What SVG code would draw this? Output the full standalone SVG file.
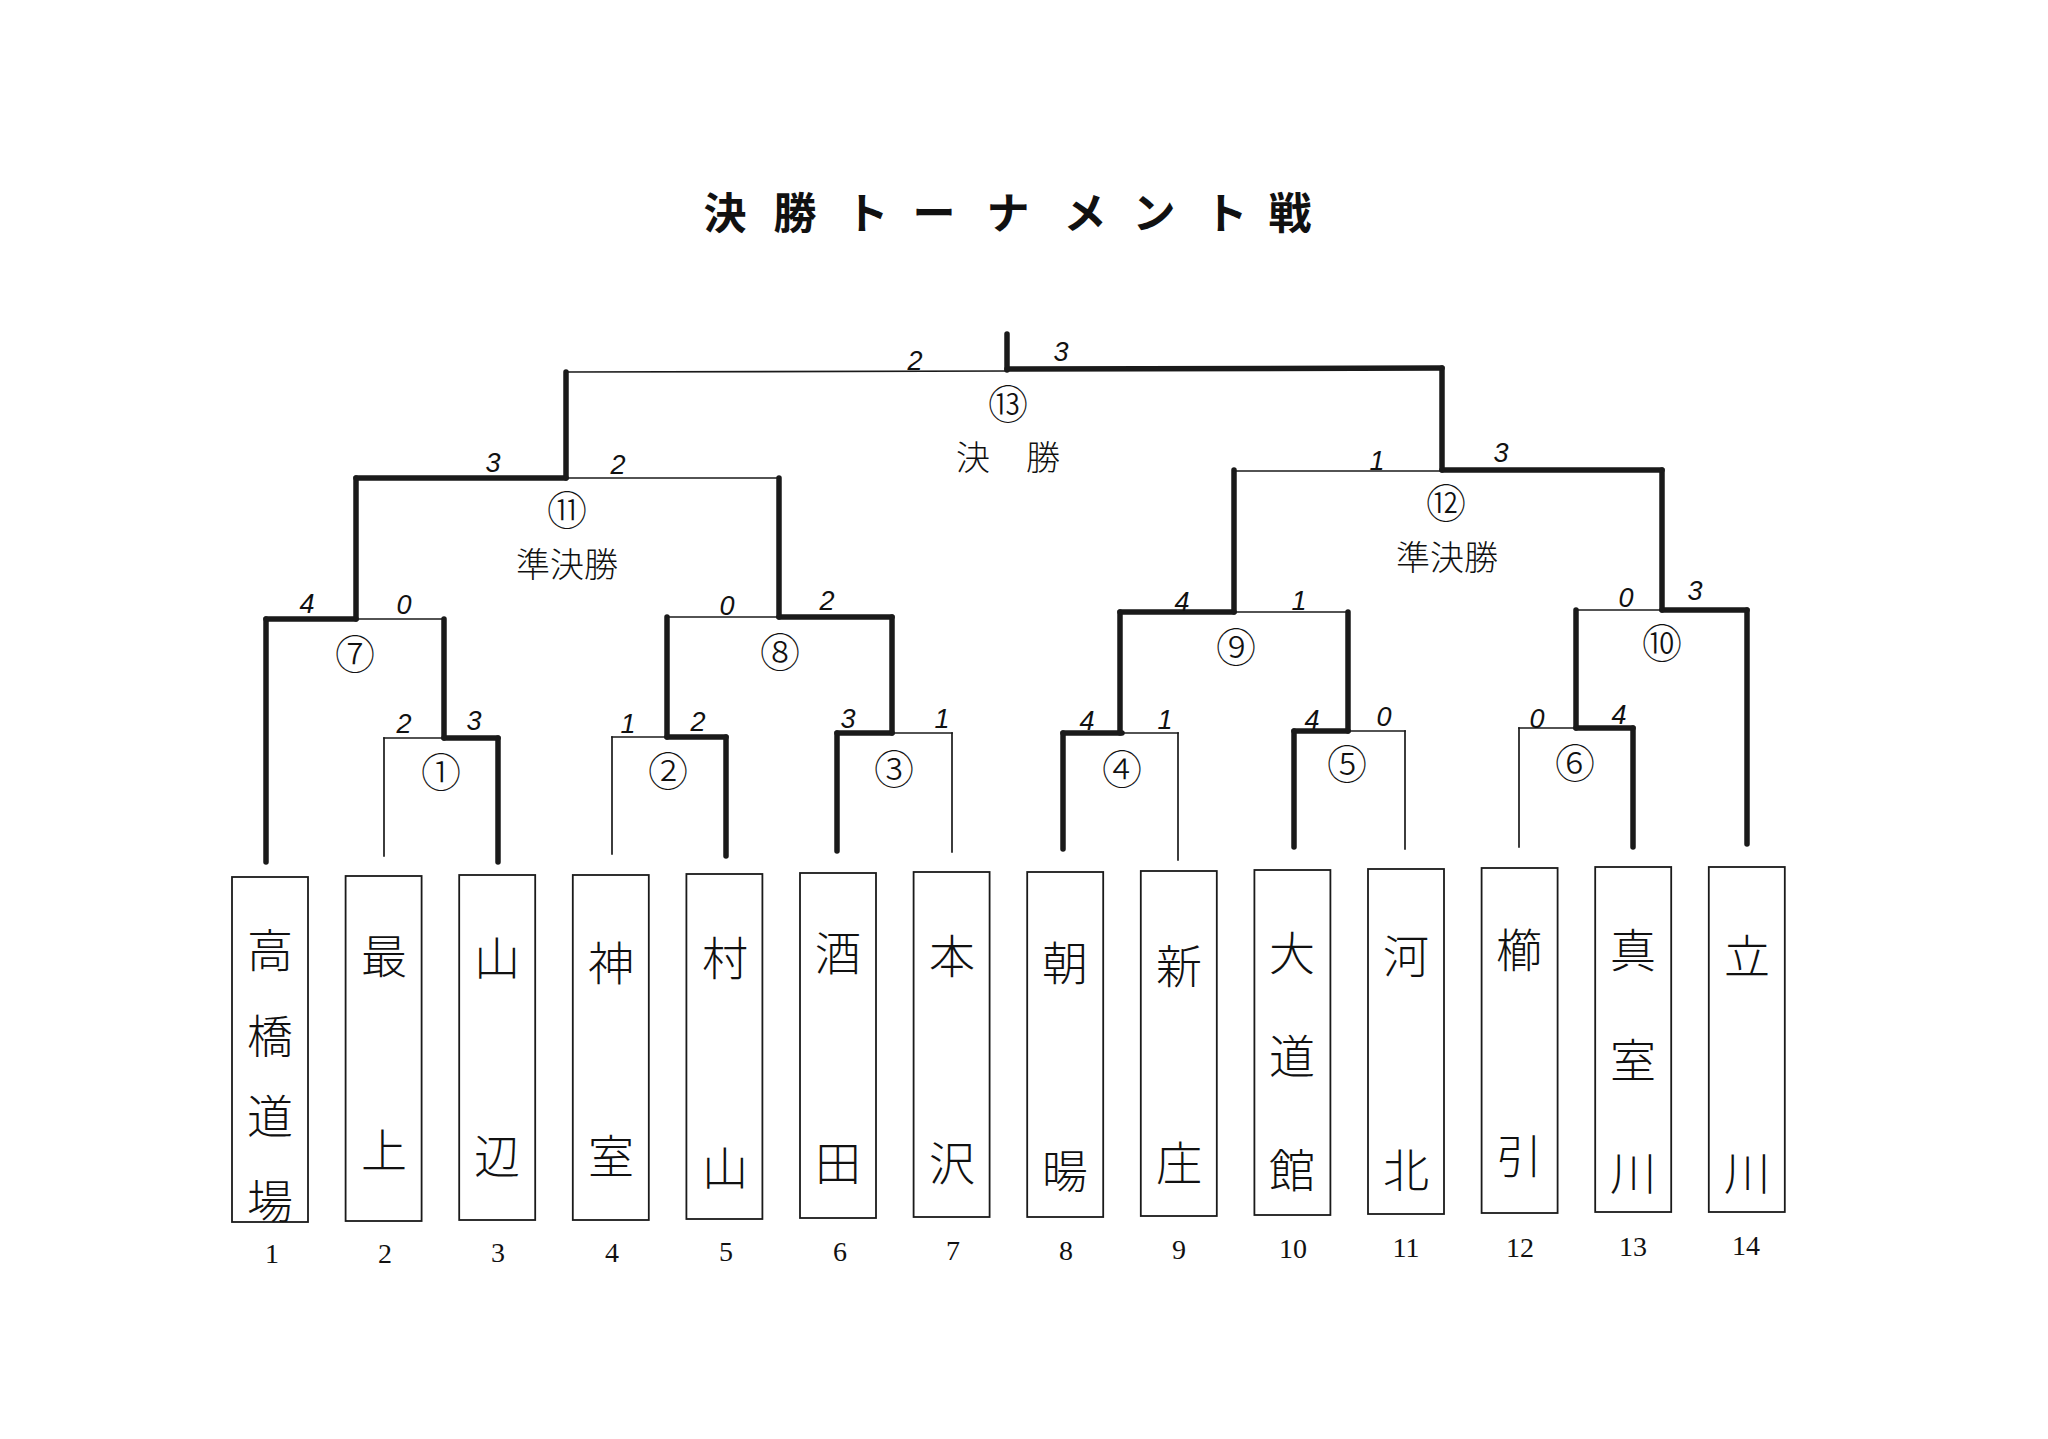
<svg xmlns="http://www.w3.org/2000/svg" width="2048" height="1439" viewBox="0 0 2048 1439">
<style>
.bg{fill:#ffffff}
.thin{stroke:#1a1a1a;stroke-width:1.7;fill:none;stroke-linecap:square}
.thick{stroke:#1a1a1a;stroke-width:5.5;fill:none;stroke-linecap:round;stroke-linejoin:round}
.box{fill:none;stroke:#1a1a1a;stroke-width:1.8}
.title{font-family:"Noto Sans CJK JP","Noto Sans CJK SC",sans-serif;font-weight:bold;font-size:43px;fill:#111;text-anchor:middle;dominant-baseline:central}
.lbl{font-family:"Noto Sans CJK JP","Noto Sans CJK SC",sans-serif;font-weight:300;font-size:34px;fill:#111;text-anchor:middle;dominant-baseline:central}
.circ{font-family:"Noto Sans CJK JP","DejaVu Sans",sans-serif;font-weight:300;font-size:40px;fill:#111;text-anchor:middle;dominant-baseline:central}
.score{font-family:"Liberation Sans",sans-serif;font-style:italic;font-size:27px;fill:#111;text-anchor:middle;dominant-baseline:central}
.name{font-family:"Noto Sans CJK JP","Noto Sans CJK SC",sans-serif;font-weight:300;font-size:46px;fill:#111;text-anchor:middle;dominant-baseline:central}
.num{font-family:"Liberation Serif",serif;font-size:28px;fill:#111;text-anchor:middle;dominant-baseline:central}
</style>
<rect class="bg" x="0" y="0" width="2048" height="1439"/>

<text class="title" x="725 795 867 934 1008 1085 1154 1226 1290" y="210">決勝トーナメント戦</text>

<g id="connectors">
  <line class="thick" x1="266" y1="619" x2="266" y2="862"/>
  <line class="thin" x1="384" y1="738" x2="384" y2="856"/>
  <line class="thick" x1="498" y1="738" x2="498" y2="862"/>
  <line class="thin" x1="612" y1="737" x2="612" y2="854"/>
  <line class="thick" x1="726" y1="737" x2="726" y2="856"/>
  <line class="thick" x1="837" y1="733" x2="837" y2="851"/>
  <line class="thin" x1="952" y1="733" x2="952" y2="852"/>
  <line class="thick" x1="1063" y1="733" x2="1063" y2="849"/>
  <line class="thin" x1="1178" y1="733" x2="1178" y2="860"/>
  <line class="thick" x1="1294" y1="731" x2="1294" y2="847"/>
  <line class="thin" x1="1405" y1="731" x2="1405" y2="849"/>
  <line class="thin" x1="1519" y1="728" x2="1519" y2="847"/>
  <line class="thick" x1="1633" y1="728" x2="1633" y2="847"/>
  <line class="thick" x1="1747" y1="610" x2="1747" y2="844"/>

  <line class="thin" x1="384" y1="738" x2="444" y2="738"/>
  <line class="thick" x1="444" y1="738" x2="498" y2="738"/>
  <line class="thin" x1="612" y1="737" x2="667" y2="737"/>
  <line class="thick" x1="667" y1="737" x2="726" y2="737"/>
  <line class="thick" x1="837" y1="733" x2="892" y2="733"/>
  <line class="thin" x1="892" y1="733" x2="952" y2="733"/>
  <line class="thick" x1="1063" y1="733" x2="1122" y2="733"/>
  <line class="thin" x1="1122" y1="733" x2="1178" y2="733"/>
  <line class="thick" x1="1294" y1="731" x2="1348" y2="731"/>
  <line class="thin" x1="1348" y1="731" x2="1405" y2="731"/>
  <line class="thin" x1="1519" y1="728" x2="1576" y2="728"/>
  <line class="thick" x1="1576" y1="728" x2="1633" y2="728"/>

  <line class="thick" x1="444" y1="619" x2="444" y2="738"/>
  <line class="thick" x1="667" y1="617" x2="667" y2="737"/>
  <line class="thick" x1="892" y1="617" x2="892" y2="733"/>
  <line class="thick" x1="1120" y1="612" x2="1120" y2="733"/>
  <line class="thick" x1="1348" y1="612" x2="1348" y2="731"/>
  <line class="thick" x1="1576" y1="610" x2="1576" y2="728"/>

  <line class="thick" x1="266" y1="619" x2="356" y2="619"/>
  <line class="thin" x1="356" y1="619" x2="444" y2="619"/>
  <line class="thin" x1="667" y1="617" x2="779" y2="617"/>
  <line class="thick" x1="779" y1="617" x2="892" y2="617"/>
  <line class="thick" x1="1120" y1="612" x2="1234" y2="612"/>
  <line class="thin" x1="1234" y1="612" x2="1348" y2="612"/>
  <line class="thin" x1="1576" y1="610" x2="1662" y2="610"/>
  <line class="thick" x1="1662" y1="610" x2="1747" y2="610"/>

  <line class="thick" x1="356" y1="478" x2="356" y2="619"/>
  <line class="thick" x1="779" y1="478" x2="779" y2="617"/>
  <line class="thick" x1="1234" y1="470" x2="1234" y2="612"/>
  <line class="thick" x1="1662" y1="470" x2="1662" y2="610"/>

  <line class="thick" x1="356" y1="478" x2="566" y2="478"/>
  <line class="thin" x1="566" y1="478" x2="779" y2="478"/>
  <line class="thin" x1="1234" y1="471" x2="1442" y2="471"/>
  <line class="thick" x1="1442" y1="470" x2="1662" y2="470"/>

  <line class="thick" x1="566" y1="372" x2="566" y2="478"/>
  <line class="thick" x1="1442" y1="368" x2="1442" y2="470"/>

  <line class="thin" x1="566" y1="372" x2="1007" y2="371"/>
  <line class="thick" x1="1007" y1="369" x2="1442" y2="368"/>
  <line class="thick" x1="1007" y1="334" x2="1007" y2="370"/>
</g>

<g id="scores">
  <text class="score" x="404" y="724">2</text><text class="score" x="474" y="721">3</text>
  <text class="score" x="628" y="724">1</text><text class="score" x="698" y="722">2</text>
  <text class="score" x="848" y="719">3</text><text class="score" x="942" y="719">1</text>
  <text class="score" x="1087" y="721">4</text><text class="score" x="1165" y="720">1</text>
  <text class="score" x="1312" y="720">4</text><text class="score" x="1384" y="717">0</text>
  <text class="score" x="1537" y="719">0</text><text class="score" x="1619" y="715">4</text>
  <text class="score" x="307" y="604">4</text><text class="score" x="404" y="605">0</text>
  <text class="score" x="727" y="606">0</text><text class="score" x="827" y="601">2</text>
  <text class="score" x="1182" y="602">4</text><text class="score" x="1299" y="601">1</text>
  <text class="score" x="1626" y="598">0</text><text class="score" x="1695" y="591">3</text>
  <text class="score" x="493" y="463">3</text><text class="score" x="618" y="465">2</text>
  <text class="score" x="1377" y="461">1</text><text class="score" x="1501" y="453">3</text>
  <text class="score" x="915" y="361">2</text><text class="score" x="1061" y="352">3</text>
</g>

<g id="match1"><text class="circ" x="441" y="770">①</text></g>
<g id="match2"><text class="circ" x="668" y="769">②</text></g>
<g id="match3"><text class="circ" x="894" y="767">③</text></g>
<g id="match4"><text class="circ" x="1122" y="767">④</text></g>
<g id="match5"><text class="circ" x="1347" y="762">⑤</text></g>
<g id="match6"><text class="circ" x="1575" y="761">⑥</text></g>
<g id="match7"><text class="circ" x="355" y="652">⑦</text></g>
<g id="match8"><text class="circ" x="780" y="650">⑧</text></g>
<g id="match9"><text class="circ" x="1236" y="645">⑨</text></g>
<g id="match10"><text class="circ" x="1662" y="641">⑩</text></g>
<g id="match11"><text class="circ" x="567" y="508">⑪</text><text class="lbl" x="567" y="562">準決勝</text></g>
<g id="match12"><text class="circ" x="1446" y="501">⑫</text><text class="lbl" x="1447" y="555">準決勝</text></g>
<g id="match13"><text class="circ" x="1008" y="402">⑬</text><text class="lbl" x="973 1043" y="455">決勝</text></g>

<g id="team1"><rect class="box" x="232" y="877" width="76" height="345"/><text class="name" x="270 270 270 270" y="947 1033 1113 1198">高橋道場</text><text class="num" x="272" y="1253">1</text></g>
<g id="team2"><rect class="box" x="345.6" y="876" width="76" height="345"/><text class="name" x="384 384" y="953 1147">最上</text><text class="num" x="385" y="1253">2</text></g>
<g id="team3"><rect class="box" x="459.2" y="875" width="76" height="345"/><text class="name" x="497 497" y="955 1153">山辺</text><text class="num" x="498" y="1252">3</text></g>
<g id="team4"><rect class="box" x="572.8" y="875" width="76" height="345"/><text class="name" x="611 611" y="960 1153">神室</text><text class="num" x="612" y="1252">4</text></g>
<g id="team5"><rect class="box" x="686.4" y="874" width="76" height="345"/><text class="name" x="725 725" y="955 1165">村山</text><text class="num" x="726" y="1251">5</text></g>
<g id="team6"><rect class="box" x="800" y="873" width="76" height="345"/><text class="name" x="838 838" y="950 1160">酒田</text><text class="num" x="840" y="1251">6</text></g>
<g id="team7"><rect class="box" x="913.6" y="872" width="76" height="345"/><text class="name" x="952 952" y="953 1160">本沢</text><text class="num" x="953" y="1250">7</text></g>
<g id="team8"><rect class="box" x="1027.2" y="872" width="76" height="345"/><text class="name" x="1065 1065" y="960 1168">朝暘</text><text class="num" x="1066" y="1250">8</text></g>
<g id="team9"><rect class="box" x="1140.8" y="871" width="76" height="345"/><text class="name" x="1179 1179" y="963 1160">新庄</text><text class="num" x="1179" y="1249">9</text></g>
<g id="team10"><rect class="box" x="1254.4" y="870" width="76" height="345"/><text class="name" x="1292 1292 1292" y="950 1053 1167">大道館</text><text class="num" x="1293" y="1248">10</text></g>
<g id="team11"><rect class="box" x="1368" y="869" width="76" height="345"/><text class="name" x="1406 1406" y="953 1167">河北</text><text class="num" x="1406" y="1247">11</text></g>
<g id="team12"><rect class="box" x="1481.6" y="868" width="76" height="345"/><text class="name" x="1519 1519" y="947 1153">櫛引</text><text class="num" x="1520" y="1247">12</text></g>
<g id="team13"><rect class="box" x="1595.2" y="867" width="76" height="345"/><text class="name" x="1633 1633 1633" y="947 1057 1170">真室川</text><text class="num" x="1633" y="1246">13</text></g>
<g id="team14"><rect class="box" x="1708.8" y="867" width="76" height="345"/><text class="name" x="1747 1747" y="953 1170">立川</text><text class="num" x="1746" y="1245">14</text></g>
</svg>
